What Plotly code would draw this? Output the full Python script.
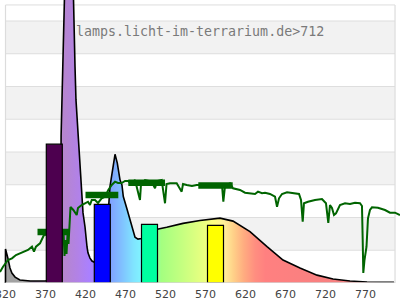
import plotly.graph_objects as go

# ---------------- data ----------------
# lamp spectrum (wavelength nm, relative intensity)
spec_nm = [320, 320, 323, 325.6, 328, 332, 338, 345, 351, 369, 388.5, 389.5, 391, 392.5, 398,
           404.7, 405.5, 406.9, 408.1, 409.4, 411.5, 411.9, 413.1, 414.4, 415.6, 416.9, 419.4,
           420.6, 421.9, 423.1, 425.6, 428.1, 430.6, 435, 440, 445, 448, 450.6, 452.75, 456.9,
           459.75, 460.6, 463.1, 465.6, 467.25, 471.5, 478.1, 481.9, 485.6, 490, 500, 509.75,
           521.5, 541.9, 563.1, 584.4, 588.1, 604.4, 625.6, 646.9, 666.9, 688.1, 709.4, 729.4,
           750.6, 771.9, 805.6]
spec_val = [0, 10.4, 7.6, 4.6, 3.05, 1.8, 0.9, 0.7, 0.6, 0.6, 1.0, 45, 70, 100, 130,
            90, 75, 66, 55.9, 50.7, 44.6, 40.6, 35.4, 30.5, 25.3, 21.4, 17.1,
            13.1, 11.0, 9.2, 7.6, 6.7, 6.4, 7.0, 9.0, 13.0, 20.0, 29.4, 33.0, 39.3,
            36.6, 35.4, 31.5, 29.9, 26.4, 22.9, 17.7, 14.0, 13.4, 13.6, 15.0, 16.4,
            17.0, 18.2, 19.1, 19.7, 19.8, 18.9, 15.7, 11.1, 7.0, 4.6, 2.4, 1.2,
            0.6, 0.3, 0.2]

# reference (sunlight) spectrum
sun_nm = [313.1, 316.9, 323.1, 328.1, 333.1, 338.1, 343.1, 348.1, 353.1, 355.6, 358.1, 363.1,
          368.1, 392.5, 393.75, 395.0, 396.25, 397.5, 398.75, 400.0, 401.25, 404.8, 409.0,
          410.6, 415.2, 419.4, 423.1, 425.6, 427.8, 431.9, 435.6, 440.2, 444.4, 448.5, 452.8,
          456.9, 460.6, 465.2, 469.4, 473.5, 476.9, 481.9, 488.1, 489.4, 494.4, 502.75, 506.9,
          509.4, 515.2, 519.4, 521.3, 525.6, 534.0, 540.2, 541.9, 546.5, 553.1, 559.0, 569.4,
          578.1, 585.6, 590.6, 592.3, 594.4, 600.6, 604.4, 613.1, 619.4, 625.6, 631.9, 635.6,
          640.6, 644.4, 650.6, 656.9, 659.4, 661.9, 665.6, 671.9, 678.1, 686.9, 689.4, 691.5,
          693.1, 698.1, 706.9, 715.6, 720.6, 723.5, 725.6, 728.1, 730.6, 733.1, 738.1, 744.4,
          750.6, 756.9, 763.1, 765.6, 766.5, 767.25, 768.75, 770.0, 771.25, 773.1, 775.6,
          778.1, 785.6, 794.4, 800.6, 806.9, 813.1]
sun_val = [3.36, 4.98, 7.02, 7.54, 8.55, 9.07, 9.56, 10.08, 11.08, 9.56, 11.08, 12.12,
           14.66, 15.57, 8.24, 13.13, 8.85, 14.66, 11.91, 18.63, 23.21, 22.29, 20.76,
           22.9, 23.82, 24.34, 24.82, 23.82, 25.34, 25.34, 24.43, 25.86, 26.35, 28.40, 29.92,
           30.93, 30.53, 30.53, 31.15, 31.15, 30.23, 31.45, 25.34, 30.23, 31.45, 30.93, 28.92,
           31.15, 31.45, 24.34, 30.23, 30.44, 30.44, 27.88, 30.23, 29.92, 29.62, 29.92, 29.92,
           30.23, 29.62, 29.92, 24.82, 29.62, 30.44, 28.92, 28.40, 27.57, 27.39, 27.18, 27.88,
           27.39, 27.57, 27.18, 26.35, 23.30, 25.86, 27.18, 27.69, 27.39, 27.18, 25.34, 18.72,
           24.34, 24.82, 25.34, 25.65, 24.34, 18.32, 23.82, 22.9, 20.76, 21.28, 23.82, 24.34,
           24.12, 24.52, 24.34, 23.51, 13.13, 3.05, 7.02, 10.08, 11.08, 19.76, 22.29,
           23.11, 22.99, 22.29, 21.47, 21.47, 20.76]

# band averages of the reference spectrum
band_start = [360, 420, 473.5, 561]
band_end = [400.6, 461, 519.4, 604]
band_val = [15.6, 26.9, 30.6, 29.8]

# lamp bars
bar_center = [381, 441, 500, 582.5]
bar_width = [20, 20, 20, 20]
bar_value = [42.4, 24.0, 17.9, 17.6]
bar_colors = ['#4d004f', '#0000ff', '#00ffa0', '#ffff00']

tick_vals = [320, 370, 420, 470, 520, 570, 620, 670, 720, 770]
title_text = "lamps.licht-im-terrarium.de>712"

# ---------------- style ----------------
X0, X1 = 320, 806.9
TOP = 84.9
fill_stops = [(320, '#a2a2a2'), (346, '#a2a2a2'), (356, '#9c80aa'), (385, '#b888c8'),
              (396, '#b585d2'), (410, '#b282e6'), (425, '#aa80ff'), (445, '#8c92ff'),
              (452, '#80a4ff'), (465, '#80c0ff'), (480, '#80e4ff'), (490, '#80f4ff'),
              (505, '#88ffb0'), (515, '#a4ff80'), (540, '#c4ff80'), (565, '#e6ff80'),
              (580, '#ffff80'), (593, '#fff09a'), (605, '#ffd088'), (618, '#ffac80'),
              (632, '#ff8e80'), (645, '#ff8080'), (806, '#f08080')]
cs = [[(w - 320) / (806 - 320), c] for w, c in fill_stops]

fig = go.Figure()

fig.add_trace(go.Scatter(
    x=spec_nm, y=spec_val, mode='lines', fill='tozeroy',
    fillgradient=dict(type='horizontal', colorscale=cs, start=320, stop=806),
    line=dict(color='black', width=1.6), hoverinfo='skip', showlegend=False))

fig.add_trace(go.Scatter(
    x=sun_nm, y=sun_val, mode='lines', line=dict(color='#006400', width=2),
    hoverinfo='skip', showlegend=False))

for s, e, v in zip(band_start, band_end, band_val):
    fig.add_trace(go.Scatter(x=[s, e], y=[v, v], mode='lines',
                             line=dict(color='#006400', width=6.5),
                             hoverinfo='skip', showlegend=False))

for c, w, v, col in zip(bar_center, bar_width, bar_value, bar_colors):
    xs = [c - w / 2, c - w / 2, c + w / 2, c + w / 2, c - w / 2]
    ys = [0, v, v, 0, 0]
    fig.add_trace(go.Scatter(x=xs, y=ys, mode='lines', fill='toself', fillcolor=col,
                             line=dict(color='black', width=1.2),
                             hoverinfo='skip', showlegend=False))

shapes = []
for lo in [10, 30, 50, 70]:
    shapes.append(dict(type='rect', xref='x', yref='y', x0=X0, x1=X1, y0=lo, y1=lo + 10,
                       fillcolor='#f2f2f2', line=dict(width=0), layer='below'))
for gy in [10, 20, 30, 40, 50, 60, 70, 80, TOP]:
    shapes.append(dict(type='line', xref='x', yref='y', x0=X0, x1=X1, y0=gy, y1=gy,
                       line=dict(color='#dedede', width=1), layer='below'))
for gx in [X0, X1]:
    shapes.append(dict(type='line', xref='x', yref='y', x0=gx, x1=gx, y0=0, y1=TOP,
                       line=dict(color='#dcdcdc', width=1.2), layer='below'))
shapes.append(dict(type='line', xref='x', yref='y', x0=X0, x1=X1, y0=0, y1=0,
                   line=dict(color='#d4d4d4', width=1.5), layer='above'))

fig.update_layout(
    width=400, height=300,
    margin=dict(l=0, r=0, t=0, b=17, pad=0, autoexpand=False),
    paper_bgcolor='white', plot_bgcolor='white',
    shapes=shapes,
    xaxis=dict(range=[313.125, 813.125], tickvals=tick_vals, showgrid=False,
               zeroline=False, showline=False, ticks='', automargin=False,
               ticklabeloverflow='allow', ticklabelstandoff=3,
               tickfont=dict(family='DejaVu Sans', size=11, color='#444444')),
    yaxis=dict(range=[0, 86.41], showgrid=False, zeroline=False, showline=False,
               showticklabels=False, ticks='', automargin=False),
    annotations=[dict(text=title_text, x=0.5, xref='paper', y=(283 - 32) / 3.275, yref='y',
                      xanchor='center', yanchor='middle', showarrow=False,
                      font=dict(family='DejaVu Sans Mono', size=13.3, color='#7a7a7a'))],
    showlegend=False,
)

fig.write_html("out.html")
